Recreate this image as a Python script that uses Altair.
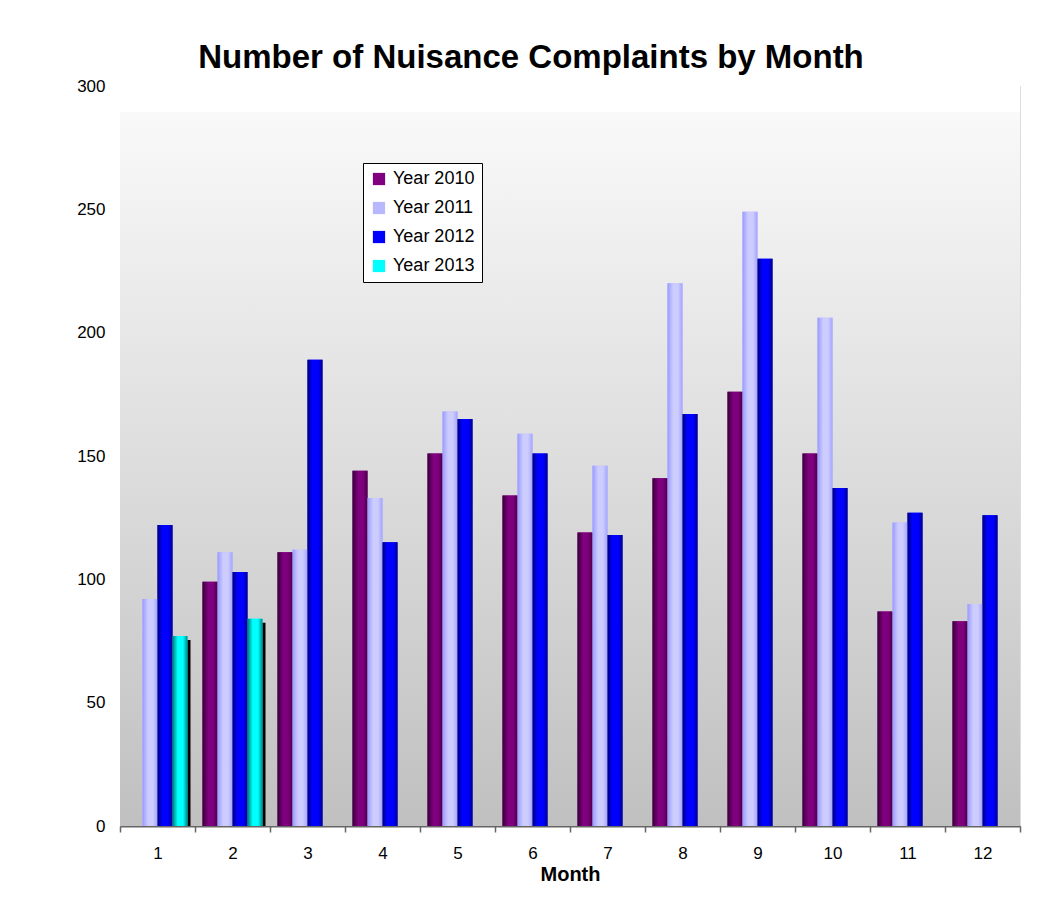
import altair as alt
import pandas as pd

months = [1, 2, 3, 4, 5, 6, 7, 8, 9, 10, 11, 12]
series_names = ["Year 2010", "Year 2011", "Year 2012", "Year 2013"]
y2010 = [None, 99, 111, 144, 151, 134, 119, 141, 176, 151, 87, 83]
y2011 = [92, 111, 112, 133, 168, 159, 146, 220, 249, 206, 123, 90]
y2012 = [122, 103, 189, 115, 165, 151, 118, 167, 230, 137, 127, 126]
y2013 = [77, 84, None, None, None, None, None, None, None, None, None, None]
y_ticks = [0, 50, 100, 150, 200, 250, 300]

solid_colors = ["#800080", "#b8b8ff", "#0000ff", "#00ffff"]
gradients = {
    "Year 2010": [("#380038", 0), ("#800080", 0.4), ("#7c007c", 0.72), ("#4a004a", 1)],
    "Year 2011": [("#9a9aff", 0), ("#ccccff", 0.38), ("#ccccff", 0.7), ("#a4a4ff", 1)],
    "Year 2012": [("#000078", 0), ("#0000ff", 0.32), ("#0000ff", 0.72), ("#00008a", 1)],
    "Year 2013": [("#007878", 0), ("#00ffff", 0.35), ("#00ffff", 0.7), ("#008888", 1)],
}

rows = []
for si, (name, vals) in enumerate(zip(series_names, [y2010, y2011, y2012, y2013])):
    for m, v in zip(months, vals):
        if v is not None:
            rows.append({"month": m, "series": name, "slot": si, "value": v})
df = pd.DataFrame(rows)

FONT = "Liberation Sans"

base = alt.Chart(df).transform_calculate(
    x0="datum.month - 0.4 + datum.slot * 0.2",
    x1="datum.month - 0.2 + datum.slot * 0.2",
)

xscale = alt.Scale(domain=[0.5, 12.5], nice=False, zero=False)
yenc = alt.Y(
    "value:Q",
    scale=alt.Scale(domain=[0, 300], nice=False),
    axis=alt.Axis(values=y_ticks, title=None, domain=False, ticks=False, grid=False,
                  labelFontSize=17, labelFont=FONT, labelColor="black", labelPadding=15),
)

tick_axis = alt.Axis(values=[m - 0.5 for m in months] + [12.5], labels=False, ticks=True,
                     tickSize=6, tickColor="#666666", tickWidth=1.5, domain=True,
                     domainColor="#666666", domainWidth=2, grid=False, title=None,
                     orient="bottom")
label_axis = alt.Axis(values=months, labelExpr="''+datum.value", ticks=False, domain=False,
                      grid=False, labelFontSize=17, labelFont=FONT, labelColor="black",
                      labelPadding=19, title="Month", titleFont=FONT, titleFontSize=20,
                      titleFontWeight="bold", titleColor="black", titlePadding=3,
                      orient="bottom")

bg_grad = alt.LinearGradient(
    gradient="linear",
    stops=[alt.GradientStop(color="#ffffff", offset=0),
           alt.GradientStop(color="#ffffff", offset=0.034),
           alt.GradientStop(color="#f9f9f9", offset=0.036),
           alt.GradientStop(color="#c0c0c0", offset=1)],
    x1=0, x2=0, y1=0, y2=1,
)
background = alt.Chart(pd.DataFrame({"k": [0]})).mark_rect(fill=bg_grad).encode(
    x=alt.value(0), x2=alt.value("width"), y=alt.value(0), y2=alt.value("height")
)

shadow = base.transform_filter(alt.datum.series == "Year 2013").mark_rect(
    color="black", xOffset=3, x2Offset=3, yOffset=4
).encode(
    x=alt.X("x0:Q", scale=xscale, axis=None), x2="x1:Q", y=yenc, y2=alt.datum(0)
)

legend_layer = base.mark_rect().encode(
    x=alt.X("x0:Q", scale=xscale, axis=tick_axis), x2="x1:Q", y=yenc, y2=alt.datum(0),
    color=alt.Color(
        "series:N",
        scale=alt.Scale(domain=series_names, range=solid_colors),
        legend=alt.Legend(
            title=None, orient="none", legendX=243, legendY=77, direction="vertical",
            strokeColor="black", fillColor="white", padding=7, labelFontSize=18,
            labelFont=FONT, labelColor="black", symbolType="square", symbolSize=150,
            symbolStrokeWidth=0, rowPadding=11, labelOffset=5,
        ),
    ),
)

grad_layers = []
for i, name in enumerate(series_names):
    stops = [alt.GradientStop(color=c, offset=o) for c, o in gradients[name]]
    g = alt.LinearGradient(gradient="linear", stops=stops, x1=0, x2=1, y1=0, y2=0)
    ax = label_axis if i == 0 else None
    layer = base.transform_filter(alt.datum.series == name).mark_rect(fill=g).encode(
        x=alt.X("x0:Q", scale=xscale, axis=ax), x2="x1:Q", y=yenc, y2=alt.datum(0)
    )
    grad_layers.append(layer)

chart = alt.layer(background, shadow, legend_layer, *grad_layers).resolve_axis(
    x="independent"
).properties(
    width=900,
    height=740,
    autosize=alt.AutoSizeParams(type="none"),
    padding={"left": 112, "top": 78, "right": 21, "bottom": 71},
    title=alt.Title("Number of Nuisance Complaints by Month", font=FONT, fontSize=33,
                    fontWeight="bold", color="black", anchor="middle", dx=-39, offset=2),
).configure_view(stroke=None).configure(background="white")

chart.save("out.html", embed_options={"renderer": "svg", "actions": False})
